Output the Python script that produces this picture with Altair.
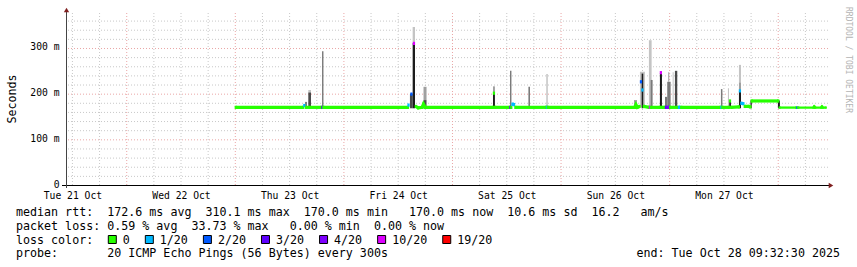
import altair as alt
import pandas as pd

# ---------------- data ----------------
# median rtt samples: "day HH:MM" (Oct 2025), median in ms, loss-class index
med_time = [
    "23 00:06", "23 15:00", "23 15:15", "23 15:36", "23 19:03", "23 19:15", "23 19:27",
    "24 14:10", "24 14:17", "24 14:56", "24 15:29", "24 15:54", "24 16:24", "24 17:18",
    "24 17:35", "24 17:57",
    "25 09:00", "25 09:10", "25 09:24", "25 12:39", "25 12:49", "25 13:00", "25 13:15",
    "25 13:36", "25 13:54", "25 20:42", "25 20:53", "25 21:03",
    "26 16:18", "26 16:33", "26 16:51", "26 17:21", "26 17:40", "26 17:59", "26 18:18",
    "26 19:27", "26 19:39", "26 19:51", "26 21:51", "26 22:04", "26 22:21", "26 22:57",
    "26 23:11", "26 23:30", "26 23:51",
    "27 00:06", "27 01:48", "27 02:04", "27 02:18", "27 02:33", "27 11:15", "27 11:27",
    "27 11:39", "27 13:06", "27 13:20", "27 13:36", "27 15:18", "27 15:32", "27 15:51",
    "27 16:18", "27 16:36", "27 17:30", "27 17:52", "27 18:07",
    "28 00:00", "28 00:18", "28 04:00", "28 04:12", "28 04:24", "28 07:48", "28 07:57",
    "28 08:09", "28 09:30", "28 09:40", "28 09:51", "28 10:30",
]
med_ms = [
    170, 170, 174, 170, 170, 170, 170,
    170, 175, 199, 310, 172, 169, 170,
    177, 170,
    170, 201, 170, 170, 170, 170, 177,
    176, 170, 170, 170, 170,
    170, 176, 170, 172, 226, 208, 172,
    170, 170, 170, 170, 246, 170, 170,
    170, 170, 170,
    170, 170, 170, 170, 170, 170, 170,
    170, 170, 184, 170, 171, 206, 179,
    178, 172, 172, 171, 184,
    184, 169.5, 169.5, 169.5, 169.5, 169.5, 172,
    169.5, 169.5, 172, 169.5, 169.5,
]
med_loss = [
    0, 0, 1, 0, 0, 3, 0,
    0, 1, 2, 5, 0, 0, 0,
    0, 0,
    0, 0, 0, 0, 3, 0, 1,
    1, 0, 0, 1, 0,
    0, 0, 0, 0, 2, 1, 0,
    0, 5, 0, 0, 5, 0, 0,
    3, 4, 4,
    0, 0, 1, 1, 0, 0, 1,
    0, 0, 0, 0, 0, 1, 1,
    1, 0, 0, 0, 0,
    0, 0, 0, 2, 0, 0, 0,
    0, 0, 0, 0, 0,
]

# smoke (spread of the 20 pings): interval, low/high ms, density level 1..5
smoke_start = ["22 23:56", "23 15:25", "23 16:08", "23 16:08", "23 19:10", "24 14:36", "24 15:12",
               "24 15:12", "24 17:36", "24 17:36", "25 08:57", "25 08:57", "25 12:43", "25 16:47",
               "25 20:44", "26 16:07", "26 17:26", "26 17:49", "26 19:25", "26 19:48", "26 21:51",
               "26 22:58", "26 23:28", "26 23:41", "27 00:40", "27 01:10", "27 11:20", "27 12:53",
               "27 13:10", "27 15:19", "27 15:19", "27 15:19", "27 17:52", "27 23:56"]
smoke_end = ["23 00:09", "23 15:51", "23 16:44", "23 16:44", "23 19:29", "24 15:12", "24 15:43",
             "24 15:43", "24 18:16", "24 18:16", "25 09:23", "25 09:23", "25 13:02", "25 17:08",
             "25 21:04", "26 16:47", "26 18:32", "26 18:10", "26 20:01", "26 20:14", "26 22:18",
             "26 23:28", "27 00:13", "26 23:55", "27 00:53", "27 01:41", "27 11:40", "27 13:07",
             "27 13:33", "27 15:46", "27 15:46", "27 15:46", "27 18:09", "28 00:22"]
smoke_lo = [168, 168, 168, 203, 170, 168, 168, 311, 168, 186, 168, 201, 170, 170,
            170, 170, 170, 168, 170, 170, 168, 170, 170, 226, 170, 170, 170, 172,
            170, 168, 207, 225, 168, 168]
smoke_hi = [172, 182, 203, 208, 293, 200, 311, 346, 186, 215, 201, 216, 250, 215,
            243, 186, 248, 244, 317, 230, 246, 193, 226, 247, 247, 250, 210, 212,
            184, 207, 225, 263, 185, 185]
smoke_level = [5, 3, 4, 1, 3, 4, 5, 1, 4, 2, 5, 2, 3, 3,
               1, 2, 1, 5, 1, 3, 5, 3, 3, 2, 1, 4, 3, 1,
               5, 5, 2, 1, 5, 5]

loss_labels = ["0", "1/20", "2/20", "3/20", "4/20", "10/20", "19/20"]
loss_colors = ["#26ff00", "#00b8ff", "#0059ff", "#5e00ff", "#7e00ff", "#dd00ff", "#ff0000"]
smoke_grays = ["#c4c4c4", "#a0a0a0", "#7a7a7a", "#4a4a4a", "#1c1c1c"]

stat_lines = [
    "median rtt:  172.6 ms avg  310.1 ms max  170.0 ms min   170.0 ms now  10.6 ms sd  16.2   am/s",
    "packet loss: 0.59 % avg  33.73 % max   0.00 % min  0.00 % now",
    "loss color:",
    "probe:       20 ICMP Echo Pings (56 Bytes) every 300s",
]
end_text = "end: Tue Oct 28 09:32:30 2025"
y_title = "Seconds"
watermark = "RRDTOOL / TOBI OETIKER"
x_start, x_end = "21 10:48", "28 11:00"
y_max = 376.6
y_ticks = [0, 100, 200, 300]


# ---------------- helpers ----------------
def ms(s):
    return int(pd.Timestamp("2025-10-" + s.replace(" ", "T") + ":00", tz="UTC").value // 10**6)


def nb(s):
    return s.replace(" ", "\u00a0")


MONO = "DejaVu Sans Mono"
W, H = 761, 172
xs = alt.Scale(type="utc", domain=[ms(x_start), ms(x_end)])
ys = alt.Scale(domain=[0, y_max], nice=False, zero=False)

# grid tick positions
minor_h = [v for v in range(20, 377, 20) if v % 100]
major_h = [100, 200, 300]
six = pd.date_range("2025-10-21 12:00", "2025-10-28 06:00", freq="6h", tz="UTC")
minor_v = [int(t.value // 10**6) for t in six if t.hour != 0]
major_v = [int(t.value // 10**6) for t in six if t.hour == 0]
noons = [int(t.value // 10**6) for t in six if t.hour == 12]

AX_X = alt.Axis(values=noons, labelExpr="utcFormat(datum.value, '%a %d %b')",
                domain=False, ticks=False, grid=False, title=None, labelPadding=5,
                labelFlush=False, labelOverlap=False,
                labelFont=MONO, labelFontSize=9.7, labelColor="#000")
AX_Y = alt.Axis(values=y_ticks,
                labelExpr="datum.value == 0 ? '0\u00a0\u00a0' : datum.value + '\u00a0m'",
                domain=False, ticks=False, grid=False, title=None, labelPadding=8,
                labelFlush=False, labelOverlap=False, labelOffset=-1,
                labelFont=MONO, labelFontSize=9.7, labelColor="#000")

# median table with runs (line breaks between loss classes / jumps)
run, runs = 0, []
for i in range(len(med_ms)):
    if i > 0 and (med_loss[i] != med_loss[i - 1] or abs(med_ms[i] - med_ms[i - 1]) > 8):
        run += 1
    runs.append(run)
cut = ms("28 00:10")
med = pd.DataFrame({
    "t": [ms(s) for s in med_time],
    "v": med_ms,
    "run": runs,
    "hex": [loss_colors[k] for k in med_loss],
})
med["w"] = [2.3 if t > cut else 3.2 for t in med["t"]]
med["t0"] = med["t"] - 15 * 60 * 1000
med["t1"] = med["t"] + 15 * 60 * 1000

smoke = pd.DataFrame({
    "a": [ms(s) for s in smoke_start],
    "b": [ms(s) for s in smoke_end],
    "lo": smoke_lo,
    "hi": smoke_hi,
    "hex": [smoke_grays[k - 1] for k in smoke_level],
})

# ---------------- layers ----------------
g_hmin = alt.Chart(pd.DataFrame({"v": minor_h})).mark_rule(
    color="#c8c8c8", strokeDash=[1, 2], strokeWidth=1, yOffset=0.5
).encode(y=alt.Y("v:Q", scale=ys, axis=AX_Y))

g_hmaj = alt.Chart(pd.DataFrame({"v": major_h})).mark_rule(
    color="#eaa6a6", strokeDash=[1, 2], strokeWidth=1, yOffset=0.5
).encode(y=alt.Y("v:Q", scale=ys, axis=AX_Y))

g_vmin = alt.Chart(pd.DataFrame({"t": minor_v})).mark_rule(
    color="#c8c8c8", strokeDash=[1, 2], strokeWidth=1
).encode(x=alt.X("t:T", scale=xs, axis=AX_X))

g_vmaj = alt.Chart(pd.DataFrame({"t": major_v})).mark_rule(
    color="#eaa6a6", strokeDash=[1, 2], strokeWidth=1
).encode(x=alt.X("t:T", scale=xs, axis=AX_X))

smoke_l = alt.Chart(smoke).mark_rect().encode(
    x=alt.X("a:T", scale=xs, axis=AX_X), x2="b:T",
    y=alt.Y("lo:Q", scale=ys, axis=AX_Y), y2="hi:Q",
    color=alt.Color("hex:N", scale=None),
)

med_line = alt.Chart(med).mark_line(strokeCap="butt").encode(
    x=alt.X("t:T", scale=xs, axis=AX_X),
    y=alt.Y("v:Q", scale=ys, axis=AX_Y),
    detail="run:N",
    color=alt.Color("hex:N", scale=None),
    strokeWidth=alt.StrokeWidth("w:Q", scale=None),
)

med_dots = alt.Chart(med).mark_rule(strokeCap="butt").encode(
    x=alt.X("t0:T", scale=xs, axis=AX_X), x2="t1:T",
    y=alt.Y("v:Q", scale=ys, axis=AX_Y),
    color=alt.Color("hex:N", scale=None),
    strokeWidth=alt.StrokeWidth("w:Q", scale=None),
)

one = pd.DataFrame({"k": [0]})
x_axis_line = alt.Chart(one).mark_rule(color="#000", strokeWidth=1).encode(
    x=alt.value(-5), x2=alt.value(W + 1), y=alt.value(H + 0.5))
y_axis_line = alt.Chart(one).mark_rule(color="#444", strokeWidth=1).encode(
    x=alt.value(-0.5), y=alt.value(-3), y2=alt.value(H + 3))
arrow_up = alt.Chart(one).mark_point(shape="triangle-up", filled=True, size=28,
                                     color="#7f1f1f", opacity=1).encode(
    x=alt.value(-0.5), y=alt.value(-3))
arrow_right = alt.Chart(one).mark_point(shape="triangle-right", filled=True, size=28,
                                        color="#7f1f1f", opacity=1).encode(
    x=alt.value(W + 3), y=alt.value(H + 0.5))

title_l = alt.Chart(one).mark_text(font=MONO, fontSize=11.67, angle=270, color="#000").encode(
    x=alt.value(-55.5), y=alt.value(86), text=alt.value(y_title))
wm_l = alt.Chart(one).mark_text(font=MONO, fontSize=8, angle=90, color="#b4b4b4").encode(
    x=alt.value(780.7), y=alt.value(47), text=alt.value(nb(watermark)))

lines_df = pd.DataFrame({"txt": [nb(s) for s in stat_lines],
                         "py": [198.7 + 13.9 * i for i in range(len(stat_lines))]})
lines_l = alt.Chart(lines_df).mark_text(font=MONO, fontSize=11.67, align="left",
                                        baseline="middle", color="#000").encode(
    x=alt.value(-51), y=alt.Y("py:Q", scale=None, axis=None), text="txt:N")
end_l = alt.Chart(one).mark_text(font=MONO, fontSize=11.67, align="right",
                                 baseline="middle", color="#000").encode(
    x=alt.value(773), y=alt.value(198.7 + 13.9 * 3), text=alt.value(nb(end_text)))

# legend boxes for loss colours
CH = 7.02
bx, box_x = 108.3 - 67, []
for lab in loss_labels:
    box_x.append(bx)
    bx += 14.5 + len(lab) * CH + 15.5
leg = pd.DataFrame({"lab": loss_labels, "hex": loss_colors,
                    "bx": [b + 4 for b in box_x], "tx": [b + 14.5 for b in box_x]})
leg_y = 198.7 + 13.9 * 2
leg_box = alt.Chart(leg).mark_square(size=64, stroke="#000", strokeWidth=1, opacity=1).encode(
    x=alt.X("bx:Q", scale=None, axis=None), y=alt.value(leg_y),
    fill=alt.Fill("hex:N", scale=None))
leg_txt = alt.Chart(leg).mark_text(font=MONO, fontSize=11.67, align="left",
                                   baseline="middle", color="#000").encode(
    x=alt.X("tx:Q", scale=None, axis=None), y=alt.value(leg_y), text="lab:N")

chart = alt.layer(
    g_hmin, g_vmin, g_hmaj, g_vmaj, smoke_l, med_line, med_dots,
    x_axis_line, y_axis_line, arrow_up, arrow_right,
    title_l, wm_l, lines_l, end_l, leg_box, leg_txt,
).properties(
    width=W, height=H,
    padding={"left": 67, "top": 13, "right": 29, "bottom": 82},
    autosize=alt.AutoSizeParams(type="none"),
    background="white",
).configure_view(stroke=None)

chart.save("out.html", embed_options={"renderer": "svg", "actions": False})
